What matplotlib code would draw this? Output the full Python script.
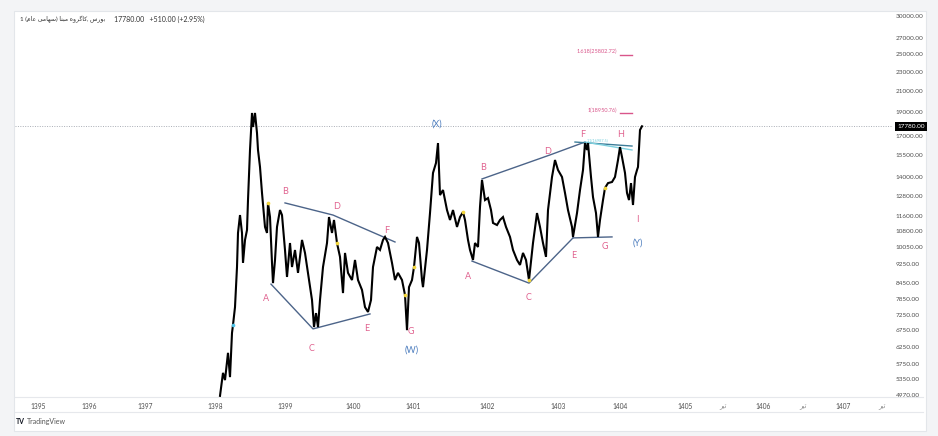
import matplotlib
matplotlib.use("Agg")
import matplotlib.pyplot as plt
from matplotlib.patches import Rectangle
from matplotlib.transforms import blended_transform_factory
from matplotlib.lines import Line2D

plt.rcParams['font.family'] = ['Lato', 'DejaVu Sans']

# ---------------- data ----------------
title_name = "بورس ,کاگروه مبنا (سهامی عام) 1"
title_quote = "17780.00   +510.00 (+2.95%)"
last_close = 17780

# bar index (time axis position) and close price
bar_x = [220, 223, 225, 228, 230, 232, 233, 235, 237, 238, 240, 242, 243, 245, 247, 248,
         250, 252, 253, 255, 257, 258, 260, 262, 265, 267, 268, 270, 272, 273, 275, 277,
         280, 282, 283, 285, 287, 290, 292, 295, 298, 300, 302, 305, 308, 312, 314, 316,
         318, 320, 323, 327, 329, 332, 334, 337, 340, 343, 345, 348, 352, 355, 358, 362,
         365, 368, 371, 373, 377, 380, 383, 385, 388, 392, 395, 398, 402, 405, 407, 409,
         412, 414, 417, 419, 422, 423, 427, 430, 433, 436, 438, 440, 443, 447, 450, 453,
         457, 460, 463, 465, 468, 470, 473, 475, 478, 480, 482, 485, 488, 491, 493, 497,
         500, 503, 506, 510, 513, 517, 520, 523, 526, 529, 533, 537, 540, 543, 546, 548,
         552, 555, 558, 562, 565, 568, 572, 573, 577, 580, 583, 585, 587, 588, 591, 593,
         596, 598, 600, 603, 605, 608, 612, 615, 618, 620, 622, 625, 627, 629, 631, 633,
         635, 637, 638, 640, 642]
close = [4950, 5520, 5334, 6070, 5410, 6670, 6930, 7540, 9120, 10720, 11670, 10720, 9300, 10367, 10870, 12532,
         15888, 18940, 17720, 18940, 17220, 15888, 14660, 12960, 11030, 10720, 12360, 11560, 9300, 8450, 9428, 11030,
         11952, 11670, 11030, 9886, 8700, 10220, 9120, 9886, 8870, 9570, 10370, 9750, 8870, 7800, 6860, 7330,
         6860, 7800, 9120, 10220, 11560, 10720, 11400, 10220, 9570, 8060, 9750, 8870, 8575, 9430, 8575, 8180,
         7540, 7370, 7800, 9120, 10030, 9890, 10370, 10520, 10220, 9300, 8575, 8870, 8575, 7990, 6760, 8290,
         8575, 9120, 10520, 10220, 8575, 8290, 9890, 11780, 14250, 14940, 16420, 12830, 13140, 11950, 11400, 11950,
         11030, 11560, 11840, 11400, 10370, 9890, 9430, 10220, 10030, 12130, 13780, 12530, 12650, 11950, 11240, 11130,
         11400, 11560, 11030, 10520, 9890, 9430, 9210, 9750, 9430, 8575, 10220, 11780, 11030, 10220, 9570, 11950,
         13980, 15150, 14450, 13980, 12960, 11950, 11030, 10520, 11780, 13140, 14450, 16420, 15890, 16420, 13980, 12710,
         11780, 10520, 11400, 12530, 13270, 13580, 13650, 13980, 15150, 16110, 15370, 14250, 12960, 12530, 13580, 12240,
         13980, 14450, 14660, 17470, 17780]

yellow_marks = [268, 337, 405, 414, 463, 529, 605]
cyan_marks = [233]

price_ticks = [30000, 27000, 25000, 23000, 21000, 19000, 17000, 15500, 14000, 12800, 11600,
               10800, 10050, 9250, 8450, 7850, 7250, 6750, 6250, 5750, 5350, 4970]
time_tick_pos = [38, 89, 145, 215, 285, 353, 413, 487, 558, 620, 685, 723, 763, 803, 843, 882]
time_tick_lbl = ["1395", "1396", "1397", "1398", "1399", "1400", "1401", "1402", "1403",
                 "1404", "1405", "تیر", "1406", "تیر", "1407", "تیر"]

# wave labels: text, bar, price
wave_lbl = ["A", "B", "C", "D", "E", "F", "G",
            "A", "B", "C", "D", "E", "F", "G", "H", "I"]
wave_x = [266, 285, 312, 337, 367, 387, 411,
          468, 483, 529, 548, 574, 583, 605, 621, 637]
wave_p = [7870, 13080, 6210, 12130, 6800, 10820, 6730,
          8700, 14590, 7910, 15810, 9650, 17140, 10030, 17060, 11400]
degree_lbl = ["(W)", "(X)", "(Y)"]
degree_x = [412, 437, 638]
degree_p = [6150, 17970, 10220]

# trend lines (bar, price)
tl_left_ace = ([271, 313, 370], [8410, 6800, 7300])
tl_left_bdf = ([285, 333, 395], [12360, 11670, 10270])
tl_right_ace = ([472, 529, 573], [9380, 8450, 10470])
tl_right_eg = ([573, 612], [10470, 10520])
tl_right_bdf = ([482, 550, 585], [13850, 15520, 16500])
tl_fh_dark = ([575, 632], [16500, 16190])
tl_fh_light = ([585, 632], [16500, 15890])

fib_text = ["1.618(25802.72)", "1(18950.76)"]
fib_text_p = [25410, 19210]
fib_level = [24930, 18940]
fib_x = [620, 632]

# ---------------- figure ----------------
W, H = 938, 436
fig = plt.figure(figsize=(W / 100, H / 100), dpi=100)
fig.patch.set_facecolor('#f3f4f6')


def fx(px):
    return px / W


def fy(py):
    return 1 - py / H


fig.patches.append(Rectangle((fx(14), fy(431)), fx(926 - 14), (431 - 11) / H,
                             transform=fig.transFigure, facecolor='white',
                             edgecolor='#e3e6ea', lw=0.8, zorder=-2))
for yy in (397, 412):
    fig.lines.append(Line2D([fx(15), fx(923)], [fy(yy), fy(yy)], transform=fig.transFigure,
                            color='#e6e8ec', lw=0.8, zorder=-1))

ax = fig.add_axes([fx(15), fy(397), fx(893 - 15), (397 - 12) / H])
ax.set_facecolor('none')
ax.set_yscale('log')
ax.set_ylim(4923, 30575)
ax.set_xlim(15, 893)
for s in ax.spines.values():
    s.set_visible(False)

ax.yaxis.tick_right()
ax.set_yticks(price_ticks)
ax.set_yticklabels([f"{v:.2f}" for v in price_ticks])
ax.yaxis.set_minor_locator(matplotlib.ticker.NullLocator())
ax.tick_params(axis='y', length=0, pad=2, labelsize=4.6, labelcolor='#4d4d4d')


# --- simple Persian shaping for display ---
FORMS = {
    '\u0627': ('\uFE8D', '\uFE8E', None, None),
    '\u0628': ('\uFE8F', '\uFE90', '\uFE91', '\uFE92'),
    '\u062A': ('\uFE95', '\uFE96', '\uFE97', '\uFE98'),
    '\u0631': ('\uFEAD', '\uFEAE', None, None),
    '\u0633': ('\uFEB1', '\uFEB2', '\uFEB3', '\uFEB4'),
    '\u0639': ('\uFEC9', '\uFECA', '\uFECB', '\uFECC'),
    '\u0645': ('\uFEE1', '\uFEE2', '\uFEE3', '\uFEE4'),
    '\u0646': ('\uFEE5', '\uFEE6', '\uFEE7', '\uFEE8'),
    '\u0647': ('\uFEE9', '\uFEEA', '\uFEEB', '\uFEEC'),
    '\u0648': ('\uFEED', '\uFEEE', None, None),
    '\u06A9': ('\uFB8E', '\uFB8F', '\uFB90', '\uFB91'),
    '\u06AF': ('\uFB92', '\uFB93', '\uFB94', '\uFB95'),
    '\u06CC': ('\uFBFC', '\uFBFD', '\uFBFE', '\uFBFF'),
}


def shape(s):
    out = []
    for i, c in enumerate(s):
        if c not in FORMS:
            out.append(c)
            continue
        iso, fin, ini, med = FORMS[c]
        prev = s[i - 1] if i > 0 else ''
        nxt = s[i + 1] if i + 1 < len(s) else ''
        jp = prev in FORMS and FORMS[prev][2] is not None
        jn = nxt in FORMS and ini is not None
        out.append(med if (jp and jn) else ini if jn else fin if jp else iso)
    return ''.join(out)


def visual(s):
    if not any('\u0600' <= c <= '\u06FF' for c in s):
        return s
    shaped = shape(s)
    tokens, buf = [], ''
    for ch in shaped:
        if ch.isascii() and (ch.isalnum() or ch in '.%+'):
            buf += ch
        else:
            if buf:
                tokens.append(buf)
                buf = ''
            tokens.append({'(': ')', ')': '('}.get(ch, ch))
    if buf:
        tokens.append(buf)
    return ''.join(reversed(tokens))


ax.set_xticks(time_tick_pos)
ax.set_xticklabels([visual(t) for t in time_tick_lbl])
ax.tick_params(axis='x', length=0, pad=4, labelsize=4.8, labelcolor='#4d4d4d')
for t, lbl in zip(ax.get_xticklabels(), time_tick_lbl):
    if not lbl.isdigit():
        t.set_color('#8a8a8a')

# last price dotted line and tag
ax.axhline(last_close, color='#a9adb5', ls=(0, (1, 1.5)), lw=0.7, zorder=1)
btr = blended_transform_factory(ax.transAxes, ax.transData)
ax.text(1.005, last_close, f"{last_close:.2f}", transform=btr, ha='left', va='center',
        fontsize=4.6, color='white', zorder=6,
        bbox=dict(boxstyle='square,pad=0.3', fc='black', ec='none'))

# trend lines
for (xs, ps) in [tl_left_ace, tl_left_bdf, tl_right_ace, tl_right_eg, tl_right_bdf]:
    ax.plot(xs, ps, color='#4c6489', lw=1.0, zorder=2)
ax.plot(*tl_fh_dark, color='#3d7d99', lw=1.0, zorder=2)
ax.plot(*tl_fh_light, color='#7dd0de', lw=1.0, zorder=2)
ax.text(598, 16650, "1.1(16987.5)", fontsize=2.8, color='#7dd0de', ha='center', va='center')

# price line
ax.plot(bar_x, close, color='black', lw=1.5, zorder=3, solid_joinstyle='miter')

lookup = dict(zip(bar_x, close))
ax.scatter(yellow_marks, [lookup[x] for x in yellow_marks], s=7, color='#f3d63c', zorder=4, lw=0)
ax.scatter(cyan_marks, [lookup[x] for x in cyan_marks], s=7, color='#4fc3e8', zorder=4, lw=0)

# wave labels
for t, x, p in zip(wave_lbl, wave_x, wave_p):
    ax.text(x, p, t, fontsize=6.5, color='#e0628f', ha='center', va='center', zorder=5)
for t, x, p in zip(degree_lbl, degree_x, degree_p):
    ax.text(x, p, t, fontsize=6.5, color='#4f7fbf', ha='center', va='center', zorder=5)

# fib targets
for t, tp, lv in zip(fib_text, fib_text_p, fib_level):
    ax.text(fib_x[0] - 3, tp, t, fontsize=4, color='#d9558a', ha='right', va='center')
    ax.plot(fib_x, [lv, lv], color='#d9558a', lw=1.0)

# header
fig.text(fx(20), fy(19), visual(title_name), fontsize=4.4, color='#333333', ha='left', va='center')
fig.text(fx(114), fy(19), title_quote, fontsize=5, color='#333333', ha='left', va='center')

# footer logo
fig.text(fx(16), fy(421), "TV", fontsize=5, color='#131722', fontweight='bold', ha='left', va='center')
fig.text(fx(27), fy(421), "TradingView", fontsize=5, color='#555555', ha='left', va='center')

fig.savefig("out.png", dpi=100, facecolor=fig.get_facecolor())
